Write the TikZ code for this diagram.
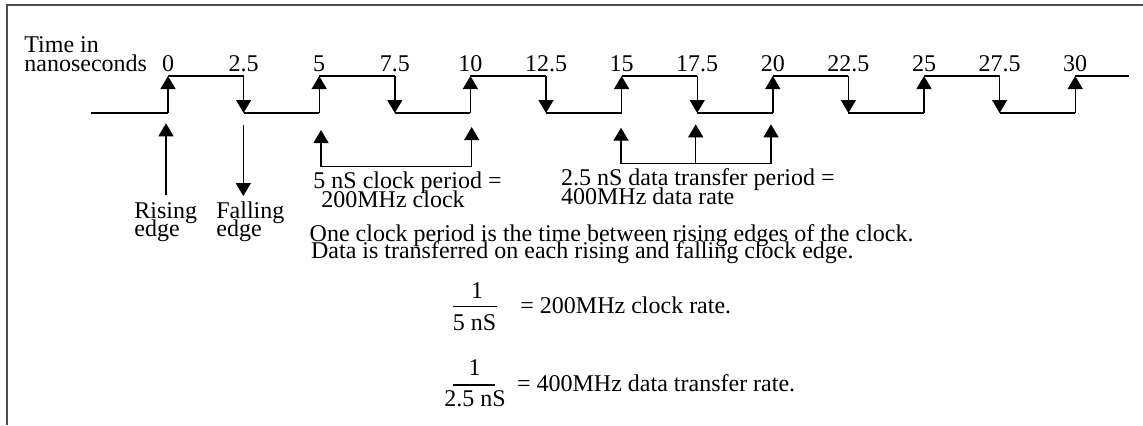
\documentclass[tikz,border=0pt]{standalone}
\usepackage{fontspec}
\setmainfont{Liberation Serif}
\usetikzlibrary{arrows.meta}
\begin{document}
\begin{tikzpicture}[x=0.5pt,y=-0.5pt,
  every node/.style={inner sep=0pt, font=\fontsize{12}{14}\selectfont},
  txt/.style={anchor=base west},
  ticklabel/.style={anchor=base},
  wire/.style={line width=0.7pt, black},
  tipdef/.tip={Triangle[length=6.5pt,width=7.5pt]},
  sig/.style={wire, -tipdef},
  twosig/.style={wire, tipdef-tipdef},
  frame/.style={line width=1pt, black!70}]
\useasboundingbox (0,0) rectangle (1143,425);

% outer frame (top and left sides)
\draw[frame] (7,425) -- (7,5) -- (1143,5);

% axis caption
\node[txt] (cap1) at (24,52) {Time in};
\node[txt] (cap2) at (24,71.5) {nanoseconds};

% clock edges and time labels
\foreach \i/\lab in {0/0,1/2.5,2/5,3/7.5,4/10,5/12.5,6/15,7/17.5,8/20,9/22.5,10/25,11/27.5,12/30}{
  \coordinate (t\i) at ({168+75.6*\i},76);
  \coordinate (b\i) at ({168+75.6*\i},113);
  \node[ticklabel] (n\i) at ({168+75.6*\i},71.5) {\lab};
}
\coordinate (lead) at (91,113);
\coordinate (tail) at (1129,76);

% clock waveform
\draw[wire] (lead) -- (b0);
\foreach \i [evaluate=\i as \j using int(\i+1)] in {0,2,...,10}
  \draw[wire] (t\i) -- (t\j);
\foreach \i [evaluate=\i as \j using int(\i+1)] in {1,3,...,11}
  \draw[wire] (b\i) -- (b\j);
\draw[wire] (t12) -- (tail);
\foreach \i in {0,2,...,12}
  \draw[sig] (b\i) -- (t\i);
\foreach \i in {1,3,...,11}
  \draw[sig] (t\i) -- (b\i);

% rising / falling edge markers
\coordinate (rbase) at (166,195);
\coordinate (rtip) at (166,123.3);
\draw[sig] (rbase) -- (rtip);
\coordinate (fbase) at (243.3,125);
\coordinate (ftip) at (243.3,196);
\draw[sig] (fbase) -- (ftip);
\node[txt] (ris1) at (134,218) {Rising};
\node[txt] (ris2) at (134,236) {edge};
\node[txt] (fal1) at (216,218) {Falling};
\node[txt] (fal2) at (216,236) {edge};

% clock period bracket
\coordinate (c1) at (321,130);
\coordinate (c2) at (471.7,127);
\coordinate (cb1) at (321,166.7);
\coordinate (cb2) at (471.7,166.7);
\draw[twosig] (c1) -- (cb1) -- (cb2) -- (c2);
\node[txt] (cp1) at (313,188) {5 nS clock period =};
\node[txt] (cp2) at (321,207.7) {200MHz clock};

% data transfer bracket
\coordinate (d1) at (621,127.7);
\coordinate (d2) at (695.7,124.3);
\coordinate (d3) at (771,124.3);
\coordinate (db1) at (621,163.3);
\coordinate (db2) at (695.7,163.3);
\coordinate (db3) at (771,163.3);
\draw[twosig] (d1) -- (db1) -- (db3) -- (d3);
\draw[sig] (db2) -- (d2);
\node[txt] (dp1) at (560.7,185) {2.5 nS data transfer period =};
\node[txt] (dp2) at (560.7,204) {400MHz data rate};

% explanation
\node[txt] (ex1) at (309.3,241) {One clock period is the time between rising edges of the clock.};
\node[txt] (ex2) at (310.7,258.3) {Data is transferred on each rising and falling clock edge.};

% clock rate
\node[ticklabel] (f1n) at (477,298) {1};
\coordinate (f1a) at (452.7,306.7);
\coordinate (f1b) at (497.3,306.7);
\draw[wire] (f1a) -- (f1b);
\node[ticklabel] (f1d) at (474.5,330) {5 nS};
\node[txt] (f1r) at (520,313.3) {= 200MHz clock rate.};

% data rate
\node[ticklabel] (f2n) at (474.5,375) {1};
\coordinate (f2a) at (453,385);
\coordinate (f2b) at (495,385);
\draw[wire] (f2a) -- (f2b);
\node[ticklabel] (f2d) at (475,406.7) {2.5 nS};
\node[txt] (f2r) at (516.7,391.7) {= 400MHz data transfer rate.};
\end{tikzpicture}
\end{document}
